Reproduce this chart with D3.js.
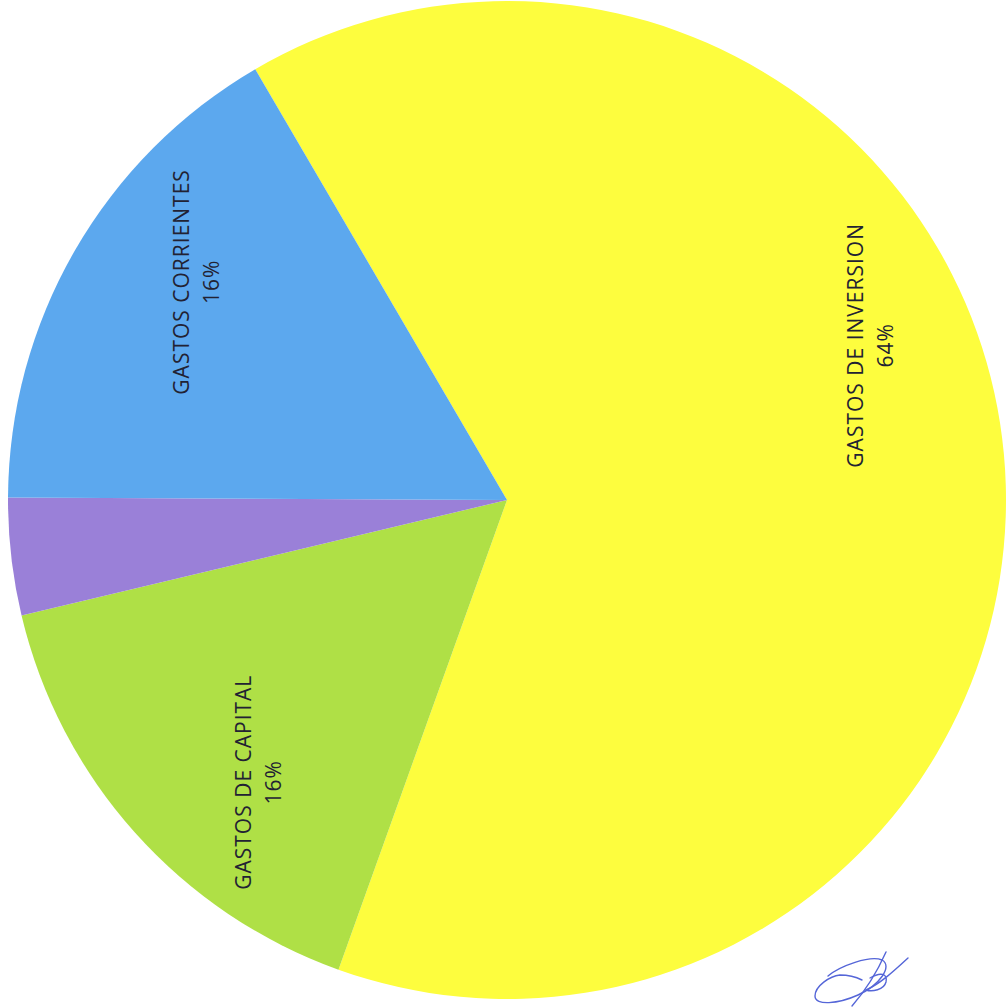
<!DOCTYPE html>
<html>
<head>
<meta charset="utf-8">
<script src="https://cdn.jsdelivr.net/npm/d3@7"></script>
<style>
  html, body { margin: 0; padding: 0; background: #ffffff; }
  svg { display: block; }
</style>
</head>
<body>
<script>
// ---- data ----
const categories = ["GASTOS DE INVERSION", "GASTOS DE CAPITAL", "OTROS", "GASTOS CORRIENTES"];
const values = [63.9, 15.8, 3.8, 16.5];
const percentLabels = ["64%", "16%", "", "16%"];
const showLabel = [true, true, false, true];
const colors = ["#fdfd3e", "#afe046", "#9a80d8", "#5ca8ee"];

// ---- layout ----
const W = 1008, H = 1007;
const cx = 507, cy = 500, R = 499;
const startDeg = -30.3;

const svg = d3.select("body").append("svg").attr("width", W).attr("height", H);
const g = svg.append("g").attr("transform", `translate(${cx},${cy})`);

const pie = d3.pie().sort(null).value(d => d)
  .startAngle(startDeg * Math.PI / 180)
  .endAngle((startDeg + 360) * Math.PI / 180);
const arcs = pie(values);
const arc = d3.arc().innerRadius(0).outerRadius(R);

g.selectAll("path.slice").data(arcs).enter().append("path")
  .attr("class", "slice")
  .attr("d", arc)
  .attr("fill", (d, i) => colors[i]);

// label placement (clockwise angle from 12 o'clock in deg, radius fraction)
const labelPlace = [
  { ang: 66.9, r: 0.79 },
  { ang: 221.4, r: 0.754 },
  null,
  { ang: 305.0, r: 0.762 }
];

arcs.forEach((d, i) => {
  if (!showLabel[i]) return;
  const p = labelPlace[i];
  const a = p.ang * Math.PI / 180;
  const x = Math.sin(a) * R * p.r;
  const y = -Math.cos(a) * R * p.r;
  const lg = g.append("g").attr("transform", `translate(${x},${y}) rotate(-90)`);
  [categories[i], percentLabels[i]].forEach((t, k) => {
    lg.append("text")
      .attr("x", 0).attr("y", k === 0 ? -15 : 15)
      .attr("text-anchor", "middle").attr("dominant-baseline", "central")
      .attr("font-family", "Open Sans, sans-serif").attr("font-size", 21)
      .attr("letter-spacing", 1)
      .attr("fill", "#222233")
      .text(t);
  });
});

// signature scribble
const sig = svg.append("g").attr("fill", "none").attr("stroke", "#5566d8")
  .attr("stroke-width", 1.4).attr("stroke-linecap", "round");
sig.append("path").attr("d",
  "M828,976 C840,966 870,955 882,960 C893,966 880,985 858,995 C838,1004 815,1006 815,996 C815,986 830,976 840,975 C850,975 858,978 862,980");
sig.append("path").attr("d", "M886,952 C878,970 866,990 852,1006");
sig.append("path").attr("d", "M870,978 C880,972 888,973 886,982 C884,990 872,992 866,990 C880,984 895,970 908,958");
</script>
</body>
</html>
